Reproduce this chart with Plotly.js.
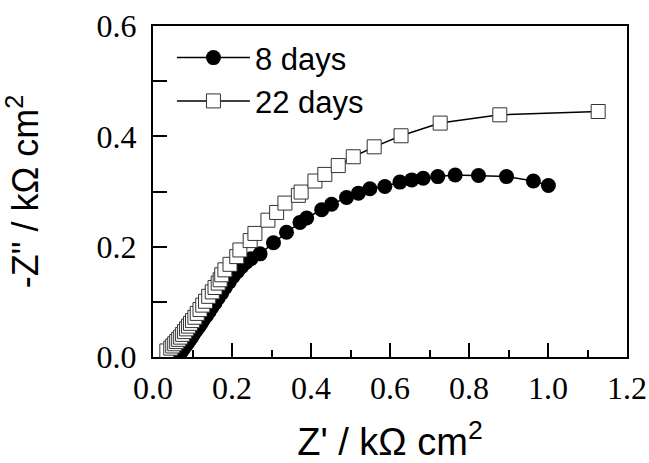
<!DOCTYPE html>
<html>
<head>
<meta charset="utf-8">
<script src="https://cdn.plot.ly/plotly-3.0.1.min.js"></script>
<style>html,body{margin:0;padding:0;background:#fff;}#chart{width:649px;height:463px;}</style>
</head>
<body>
<div id="chart"></div>
<script>
// 8 days (filled circles)
var x8 = [0.068,0.074,0.079,0.084,0.089,0.094,0.099,0.104,0.110,0.116,0.122,0.128,0.135,0.142,0.149,0.157,0.165,0.174,0.183,0.193,0.203,0.214,0.225,0.236,0.248,0.271,0.305,0.338,0.372,0.389,0.427,0.452,0.490,0.520,0.549,0.587,0.625,0.655,0.684,0.721,0.765,0.824,0.895,0.963,1.001];
var y8 = [0.006,0.012,0.017,0.022,0.027,0.032,0.037,0.043,0.049,0.055,0.061,0.068,0.075,0.082,0.090,0.098,0.107,0.116,0.126,0.136,0.146,0.155,0.164,0.172,0.178,0.187,0.207,0.226,0.244,0.252,0.267,0.277,0.289,0.297,0.305,0.309,0.317,0.321,0.324,0.327,0.330,0.329,0.327,0.319,0.311];
// 22 days (open squares)
var x22 = [0.035,0.045,0.050,0.055,0.060,0.065,0.070,0.075,0.080,0.085,0.090,0.095,0.100,0.106,0.112,0.119,0.126,0.133,0.141,0.150,0.157,0.165,0.170,0.174,0.182,0.195,0.212,0.220,0.246,0.258,0.291,0.313,0.334,0.368,0.375,0.410,0.435,0.469,0.507,0.560,0.628,0.727,0.878,1.127];
var y22 = [0.011,0.016,0.020,0.024,0.028,0.032,0.036,0.041,0.046,0.051,0.056,0.061,0.066,0.072,0.079,0.086,0.094,0.101,0.110,0.118,0.126,0.134,0.140,0.149,0.158,0.168,0.182,0.194,0.211,0.224,0.248,0.262,0.279,0.293,0.299,0.319,0.331,0.347,0.363,0.381,0.401,0.424,0.439,0.445];
var seriesNames = ['8 days', '22 days'];
var xTitle = "Z' / kΩ cm<sup>2</sup>";
var yTitle = '-Z" / kΩ cm<sup>2</sup>';

var traces = [
  {x: x8, y: y8, name: seriesNames[0], type: 'scatter', mode: 'lines+markers',
   line: {color: '#000', width: 1.5},
   marker: {symbol: 'circle', size: 15, color: '#000', line: {width: 0}}},
  {x: x22, y: y22, name: seriesNames[1], type: 'scatter', mode: 'lines+markers',
   line: {color: '#000', width: 1.5},
   marker: {symbol: 'square', size: 14, color: '#fff', line: {color: '#333', width: 1}}}
];

var layout = {
  width: 649, height: 463,
  margin: {l: 153, r: 22, t: 26, b: 106},
  paper_bgcolor: '#fff', plot_bgcolor: '#fff',
  showlegend: true,
  legend: {x: 0.04, y: 0.985, xanchor: 'left', yanchor: 'top', bgcolor: 'rgba(0,0,0,0)',
           font: {family: 'Liberation Sans, Arial, sans-serif', size: 31, color: '#000'},
           itemwidth: 73, tracegroupgap: 0},
  xaxis: {range: [0, 1.2], dtick: 0.2, tick0: 0, tickformat: '.1f',
          showgrid: false, zeroline: false, showline: true, mirror: true, linecolor: '#000', linewidth: 2,
          ticks: 'inside', ticklen: 14, tickwidth: 2, tickcolor: '#000',
          minor: {dtick: 0.1, tick0: 0, ticks: 'inside', ticklen: 7, tickwidth: 2, tickcolor: '#000', showgrid: false},
          tickfont: {family: 'Liberation Serif, Times New Roman, serif', size: 32, color: '#000'},
          ticklabelstandoff: 2,
          title: {text: xTitle, font: {family: 'Liberation Sans, Arial, sans-serif', size: 38, color: '#000'}, standoff: 34}},
  yaxis: {range: [0, 0.6], dtick: 0.2, tick0: 0, tickformat: '.1f',
          showgrid: false, zeroline: false, showline: true, mirror: true, linecolor: '#000', linewidth: 2,
          ticks: 'inside', ticklen: 14, tickwidth: 2, tickcolor: '#000',
          minor: {dtick: 0.1, tick0: 0, ticks: 'inside', ticklen: 14, tickwidth: 2, tickcolor: '#000', showgrid: false},
          tickfont: {family: 'Liberation Serif, Times New Roman, serif', size: 32, color: '#000'},
          ticklabelstandoff: 8,
          title: {text: yTitle, font: {family: 'Liberation Sans, Arial, sans-serif', size: 36, color: '#000'}, standoff: 52}}
};

Plotly.newPlot('chart', traces, layout, {displayModeBar: false, staticPlot: true});
</script>
</body>
</html>
